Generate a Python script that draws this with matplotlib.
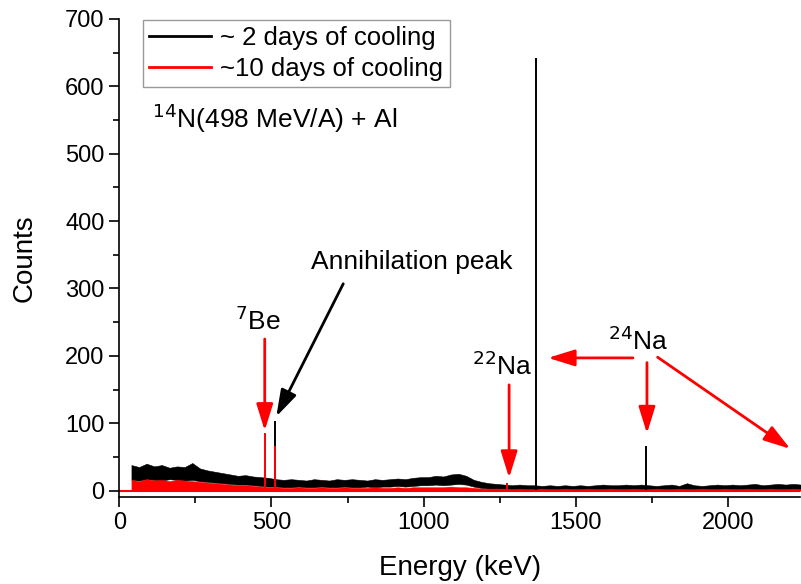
import numpy as np
import matplotlib
matplotlib.use("Agg")
import matplotlib.pyplot as plt
from matplotlib.ticker import MultipleLocator

plt.rcParams['font.family'] = ['Liberation Sans', 'DejaVu Sans']

# energy grid of the continuum envelopes (keV)
energies = list(range(40, 2241, 25))

# ~2 days of cooling: upper / lower edge of the noisy continuum (counts)
black_hi = [38, 35, 40, 36, 38, 34, 36, 35, 41, 33,
            30, 28, 26, 24, 22, 23, 21, 20, 19, 17,
            16, 17, 16, 15, 17, 16, 15, 17, 16, 17,
            16, 15, 17, 16, 17, 18, 17, 19, 20, 20,
            22, 21, 24, 25, 22, 16, 13, 11, 10, 9,
            8, 9, 8, 8, 7, 8, 7, 8, 7, 8,
            7, 8, 9, 8, 8, 9, 8, 9, 8, 7,
            8, 9, 7, 11, 8, 7, 8, 9, 8, 9,
            8, 9, 10, 8, 9, 10, 9, 10, 9]
black_lo = [16, 15, 17, 16, 15, 17, 16, 15, 16, 14,
            13, 12, 11, 10, 9, 9, 8, 7, 6, 6,
            5, 5, 6, 5, 5, 6, 5, 5, 6, 5,
            5, 6, 5, 6, 6, 7, 6, 7, 8, 8,
            9, 8, 9, 10, 9, 6, 4, 3, 3, 3,
            2, 2, 2, 2, 2, 2, 2, 2, 2, 2,
            2, 2, 2, 2, 2, 2, 2, 2, 2, 2,
            2, 2, 2, 2, 2, 2, 2, 2, 2, 2,
            2, 2, 2, 2, 2, 2, 2, 2, 2]
# ~10 days of cooling: upper edge (lower edge sits on zero)
red_hi = [16, 14, 17, 15, 16, 14, 16, 15, 14, 13,
          12, 11, 10, 9, 8, 8, 7, 6, 5, 5,
          4, 4, 5, 4, 4, 5, 4, 4, 5, 4,
          4, 4, 5, 4, 4, 5, 4, 5, 5, 5,
          5, 5, 6, 5, 5, 4, 3, 3, 3, 3,
          2, 3, 2, 2, 3, 2, 2, 3, 2, 2,
          3, 2, 2, 3, 2, 2, 3, 2, 2, 3,
          2, 2, 3, 2, 2, 3, 2, 2, 3, 2,
          2, 3, 2, 2, 3, 2, 2, 3, 2]

# photo peaks
black_peak_E = [511, 1369, 1732]
black_peak_h = [104, 642, 67]
red_peak_E = [478, 511, 1275]
red_peak_h = [86, 67, 12]

fig = plt.figure(figsize=(8.01, 5.84), dpi=100)
ax = fig.add_axes([0.1489, 0.1483, 0.8499, 0.8193])

E = np.array(energies)
ax.fill_between(E, black_lo, black_hi, color='black', lw=0.4, edgecolor='black')
ax.vlines(black_peak_E, 0, black_peak_h, color='black', lw=1.4)
ax.axhline(0, color='red', lw=1.5)
ax.fill_between(E, 0, red_hi, color='red', lw=0.4, edgecolor='red')
ax.vlines(red_peak_E, 0, red_peak_h, color='red', lw=1.4)

# legend handles
ax.plot([], [], color='black', lw=2, label='~ 2 days of cooling')
ax.plot([], [], color='red', lw=2, label='~10 days of cooling')
leg = ax.legend(loc='upper left', bbox_to_anchor=(143/801, 1-20/584),
                bbox_transform=fig.transFigure, fontsize=18.5, frameon=True,
                fancybox=False, edgecolor='gray', handlelength=2.4,
                handletextpad=0.35, borderpad=0.25, labelspacing=0.25,
                borderaxespad=0)
leg.get_frame().set_linewidth(1.0)

ax.set_xlim(0, 2237)
ax.set_ylim(-10, 700)
ax.xaxis.set_major_locator(MultipleLocator(500))
ax.xaxis.set_minor_locator(MultipleLocator(250))
ax.yaxis.set_major_locator(MultipleLocator(100))
ax.yaxis.set_minor_locator(MultipleLocator(50))
for s in ['top', 'right']:
    ax.spines[s].set_visible(False)
for s in ['left', 'bottom']:
    ax.spines[s].set_linewidth(1.2)
ax.tick_params(which='major', direction='out', length=7, width=1.2, labelsize=17)
ax.tick_params(which='minor', direction='out', length=4, width=1.2)
ax.set_xlabel('Energy (keV)', fontsize=20, labelpad=15)
ax.set_ylabel('Counts', fontsize=20, labelpad=20)

ax.text(108, 538, r'$^{14}$N(498 MeV/A) + Al', fontsize=19, ha='left', va='baseline')
ax.text(629, 329, 'Annihilation peak', fontsize=19, ha='left', va='baseline')
ax.text(457, 238, r'$^{7}$Be', fontsize=19, ha='center', va='baseline')
ax.text(1259, 172, r'$^{22}$Na', fontsize=19, ha='center', va='baseline')
ax.text(1706, 209, r'$^{24}$Na', fontsize=19, ha='center', va='baseline')

red_arrow = dict(arrowstyle='-|>,head_length=0.9,head_width=0.28', color='red',
                 lw=2, shrinkA=0, shrinkB=0, mutation_scale=18)
ax.annotate('', xy=(478, 89), xytext=(478, 225), arrowprops=red_arrow)
ax.annotate('', xy=(1281, 19), xytext=(1281, 157), arrowprops=red_arrow)
ax.annotate('', xy=(1409, 197), xytext=(1688, 197), arrowprops=red_arrow)
ax.annotate('', xy=(1734, 85), xytext=(1734, 190), arrowprops=red_arrow)
ax.annotate('', xy=(2205, 62), xytext=(1769, 198), arrowprops=red_arrow)
ax.annotate('', xy=(516, 110), xytext=(736, 307),
            arrowprops=dict(arrowstyle='-|>,head_length=0.9,head_width=0.28',
                            color='black', lw=2, shrinkA=0, shrinkB=0,
                            mutation_scale=18))

fig.savefig('out.png', dpi=100)
